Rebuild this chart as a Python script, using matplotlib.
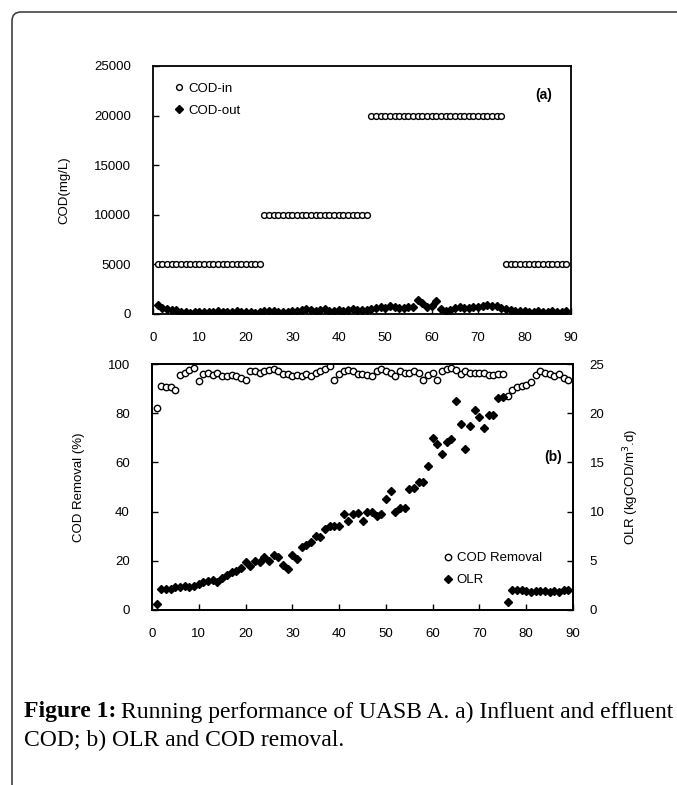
import numpy as np
import matplotlib
matplotlib.use("Agg")
import matplotlib.pyplot as plt
from matplotlib.patches import FancyBboxPatch

plt.rcParams['font.family'] = ['Liberation Sans', 'DejaVu Sans']

# ---- data ----
days = np.arange(1, 90)

cod_in = [5000] * 23 + [10000] * 23 + [20000] * 29 + [5000] * 14

cod_out = [900, 600, 500, 450, 400, 250, 200, 150, 200, 250,
           200, 200, 250, 300, 250, 200, 250, 300, 250, 200,
           200, 150, 250, 300, 350, 300, 250, 200, 250, 350,
           300, 400, 500, 400, 350, 450, 500, 350, 300, 450,
           350, 400, 500, 450, 400, 450, 500, 600, 700, 600,
           800, 700, 650, 600, 700, 750, 1400, 1100, 700, 800,
           1300, 500, 300, 400, 600, 700, 650, 600, 700, 750,
           800, 900, 850, 800, 600, 500, 400, 350, 300, 300,
           250, 200, 300, 250, 250, 300, 200, 250, 300]

cod_removal = [82, 91, 90.5, 90.5, 89.5, 95.5, 96.5, 97.5, 98.5, 93,
               96, 96.5, 95.5, 96.5, 95, 95, 95.5, 95, 94.5, 93.5,
               97, 97, 96.5, 97, 97.5, 98, 97, 96, 96, 95,
               95.5, 95, 96, 95, 96.5, 97, 98, 99, 93.5, 96,
               97, 97.5, 97, 96, 96, 95.5, 95, 97, 98, 97,
               96.5, 95, 97, 96.5, 96.5, 97, 96.5, 93.5, 95.5, 96.5,
               93.5, 97, 98, 98.5, 97.5, 96, 97, 96.5, 96.5, 96.5,
               96.5, 95.5, 95.5, 96, 96, 87, 89.5, 90.5, 91, 91.5,
               92.5, 95.5, 97, 96.5, 96, 95, 96, 94.5, 93.5]

olr = [0.6, 2.1, 2.1, 2.1, 2.3, 2.3, 2.4, 2.3, 2.4, 2.6,
       2.8, 2.9, 3.0, 2.8, 3.3, 3.6, 3.9, 4.0, 4.3, 4.9,
       4.5, 5.0, 4.9, 5.4, 5.0, 5.6, 5.4, 4.6, 4.2, 5.6,
       5.2, 6.4, 6.6, 6.9, 7.5, 7.4, 8.2, 8.5, 8.5, 8.5,
       9.8, 9.0, 9.8, 9.9, 9.0, 10.0, 10.0, 9.6, 9.8, 11.3,
       12.1, 10.0, 10.4, 10.4, 12.3, 12.4, 13.0, 13.0, 14.6, 17.5,
       16.9, 15.9, 17.1, 17.4, 21.2, 18.9, 16.4, 18.7, 20.3, 19.6,
       18.5, 19.8, 19.8, 21.5, 21.6, 0.85, 2.0, 2.0, 2.0, 1.9,
       1.8, 1.9, 1.9, 1.9, 1.8, 1.9, 1.8, 2.0, 2.0]

W, H = 677, 785
fig = plt.figure(figsize=(W / 100, H / 100), dpi=100)

# page frame with rounded top-left corner
frame = FancyBboxPatch((0.12, -1.0), 10, 7.73 + 1.0,
                       boxstyle="round,pad=0,rounding_size=0.09",
                       transform=fig.dpi_scale_trans, fill=False,
                       edgecolor='#333333', linewidth=1.1)
fig.patches.append(frame)


def box(l, t, r, b):
    return [l / W, 1 - b / H, (r - l) / W, (b - t) / H]


tick_fs = 9.5


def style(ax):
    ax.set_xlim(0, 90)
    ax.set_xticks(range(0, 91, 10))
    ax.tick_params(direction='in', length=4, width=1, labelsize=tick_fs, pad=13)
    for s in ax.spines.values():
        s.set_linewidth(1.3)


# ---- panel (a) ----
ax1 = fig.add_axes(box(153, 66, 571, 314))
ax1.plot(days, cod_in, 'o', ms=4.2, mfc='white', mec='black', mew=1.0, label='COD-in')
ax1.plot(days, cod_out, 'D', ms=4.4, color='black', label='COD-out')
ax1.set_ylim(0, 25000)
ax1.set_yticks(range(0, 25001, 5000))
style(ax1)
ax1.tick_params(axis='y', pad=16)
ax1.set_ylabel('COD(mg/L)', fontsize=9.5, labelpad=17)
ax1.legend(loc='upper left', bbox_to_anchor=(0.04, 0.955), frameon=False,
           fontsize=9.5, handlelength=0.6, handletextpad=0.4, labelspacing=0.75,
           borderaxespad=0)
ax1.text(0.955, 0.885, '(a)', transform=ax1.transAxes, fontsize=10,
         fontweight='bold', ha='right', va='center')

# ---- panel (b) ----
ax2 = fig.add_axes(box(152, 364, 573, 610))
ax2r = ax2.twinx()
h1, = ax2.plot(days, cod_removal, 'o', ms=4.6, mfc='white', mec='black', mew=1.0,
               label='COD Removal')
h2, = ax2r.plot(days, olr, 'D', ms=4.1, color='black', label='OLR')
ax2.set_ylim(0, 100)
ax2.set_yticks(range(0, 101, 20))
ax2r.set_ylim(0, 25)
ax2r.set_yticks(range(0, 26, 5))
style(ax2)
style(ax2r)
ax2.tick_params(axis='y', pad=16)
ax2r.tick_params(axis='y', pad=12)
ax2.set_ylabel('COD Removal (%)', fontsize=9.5, labelpad=16)
ax2r.set_ylabel('OLR (kgCOD/m$^3$.d)', fontsize=9.5, labelpad=12)
ax2.legend([h1, h2], ['COD Removal', 'OLR'], loc='lower left',
           bbox_to_anchor=(0.68, 0.075), frameon=False, fontsize=9.5,
           handlelength=0.6, handletextpad=0.4, labelspacing=0.75, borderaxespad=0)
ax2.text(0.975, 0.62, '(b)', transform=ax2.transAxes, fontsize=10,
         fontweight='bold', ha='right', va='center')

# ---- caption ----
cap_fs = 17
t1 = fig.text(24 / W, 1 - 712 / H, 'Figure 1:', fontsize=cap_fs, fontweight='bold',
              family='Liberation Serif', va='center')
fig.canvas.draw()
ext = t1.get_window_extent()
fig.text((ext.x1 + 5) / W, 1 - 712 / H,
         'Running performance of UASB A. a) Influent and effluent',
         fontsize=cap_fs, family='Liberation Serif', va='center')
fig.text(24 / W, 1 - 740 / H, 'COD; b) OLR and COD removal.',
         fontsize=cap_fs, family='Liberation Serif', va='center')

fig.savefig('out.png', dpi=100)
